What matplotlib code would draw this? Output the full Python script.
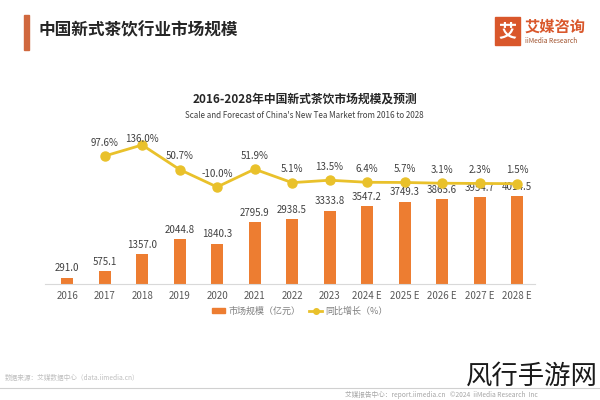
import matplotlib
matplotlib.use("Agg")
import matplotlib.pyplot as plt
from matplotlib.patches import Rectangle, Patch
from matplotlib.lines import Line2D

plt.rcParams['font.family'] = ['Noto Sans CJK SC', 'DejaVu Sans']

years = ["2016", "2017", "2018", "2019", "2020", "2021", "2022", "2023",
         "2024 E", "2025 E", "2026 E", "2027 E", "2028 E"]
market = [291.0, 575.1, 1357.0, 2044.8, 1840.3, 2795.9, 2938.5, 3333.8,
          3547.2, 3749.3, 3865.6, 3954.7, 4014.5]
growth = [None, 97.6, 136.0, 50.7, -10.0, 51.9, 5.1, 13.5,
          6.4, 5.7, 3.1, 2.3, 1.5]

BAR = "#ED7D31"
LINE = "#E9C12B"


def main() -> None:
    fig = plt.figure(figsize=(6, 4), dpi=100)

    # header
    fig.patches.append(Rectangle((24 / 600, 1 - 50 / 400), 5 / 600, 35 / 400,
                                 transform=fig.transFigure, color="#D0683E"))
    fig.text(38 / 600, 1 - 30 / 400, "中国新式茶饮行业市场规模", fontsize=12,
             fontweight="bold", color="#262626", va="center")

    # logo
    fig.patches.append(Rectangle((495 / 600, 1 - 45 / 400), 25 / 600, 28 / 400,
                                 transform=fig.transFigure, color="#D9572B"))
    fig.text(507.5 / 600, 1 - 31 / 400, "艾", fontsize=13, fontweight="bold",
             color="white", ha="center", va="center")
    fig.text(525 / 600, 1 - 27 / 400, "艾媒咨询", fontsize=11, fontweight="bold",
             color="#D9572B", va="center")
    fig.text(525 / 600, 1 - 41 / 400, "iiMedia Research", fontsize=4.8,
             color="#A0522D", va="center")

    # chart titles
    fig.text(0.508, 1 - 99 / 400, "2016-2028年中国新式茶饮市场规模及预测",
             fontsize=8.5, fontweight="bold", color="#262626",
             ha="center", va="center")
    fig.text(0.507, 1 - 116 / 400,
             "Scale and Forecast of China's New Tea Market from 2016 to 2028",
             fontsize=5.8, color="#404040", ha="center", va="center")

    ax = fig.add_axes([45 / 600, 1 - 284 / 400, 490 / 600, 154 / 400])
    x = list(range(len(years)))
    ax.bar(x, market, width=0.32, color=BAR, zorder=2)
    ax.set_xlim(-0.59, 12.48)
    ax.set_ylim(0, 7000)
    for xi, v in zip(x, market):
        ax.annotate(f"{v:.1f}", (xi, v), xytext=(0, 3),
                    textcoords="offset points", ha="center", va="bottom",
                    fontsize=7, color="#404040", zorder=5)

    for s in ["top", "right", "left"]:
        ax.spines[s].set_visible(False)
    ax.spines["bottom"].set_color("#D9D9D9")
    ax.set_yticks([])
    ax.set_xticks(x)
    ax.set_xticklabels(years, fontsize=7, color="#595959")
    ax.tick_params(axis="x", length=0, pad=5)

    ax2 = ax.twinx()
    gx = [xi for xi, g in zip(x, growth) if g is not None]
    gy = [g for g in growth if g is not None]
    ax2.plot(gx, gy, color=LINE, lw=2, marker="o", ms=6.5, zorder=3)
    ax2.set_ylim(-347, 188)
    ax2.set_yticks([])
    for s in ["top", "right", "left", "bottom"]:
        ax2.spines[s].set_visible(False)
    for xi, g in zip(gx, gy):
        dy = 1 if g == max(gy) else 6
        ax2.annotate(f"{g:.1f}%", (xi, g), xytext=(0, dy),
                     textcoords="offset points", ha="center", va="bottom",
                     fontsize=7, color="#404040")

    handles = [Patch(color=BAR),
               Line2D([], [], color=LINE, lw=2, marker="o", ms=4)]
    fig.legend(handles, ["市场规模（亿元）", "同比增长（%）"], loc="center",
               bbox_to_anchor=(0.5, 1 - 311 / 400), ncol=2, frameon=False,
               fontsize=6.5, labelcolor="#7F7F7F", handlelength=1.4,
               handleheight=0.6, columnspacing=1.0, handletextpad=0.4)

    # footer
    fig.text(5 / 600, 1 - 378 / 400, "数据来源：艾媒数据中心（data.iimedia.cn）",
             fontsize=4.8, color="#BFBFBF", va="center")
    fig.add_artist(Line2D([0, 1], [1 - 388 / 400] * 2, color="#D0D0D0", lw=0.8,
                          transform=fig.transFigure))
    fig.text(345 / 600, 1 - 395 / 400,
             "艾媒报告中心：report.iimedia.cn   ©2024  iiMedia Research  Inc",
             fontsize=4.8, color="#A6A6A6", va="center")
    fig.text(598 / 600, 1 - 376 / 400, "风行手游网", fontsize=19,
             color="#1A1A1A", ha="right", va="center")

    fig.savefig("out.png", dpi=100, facecolor="white")


if __name__ == "__main__":
    main()
